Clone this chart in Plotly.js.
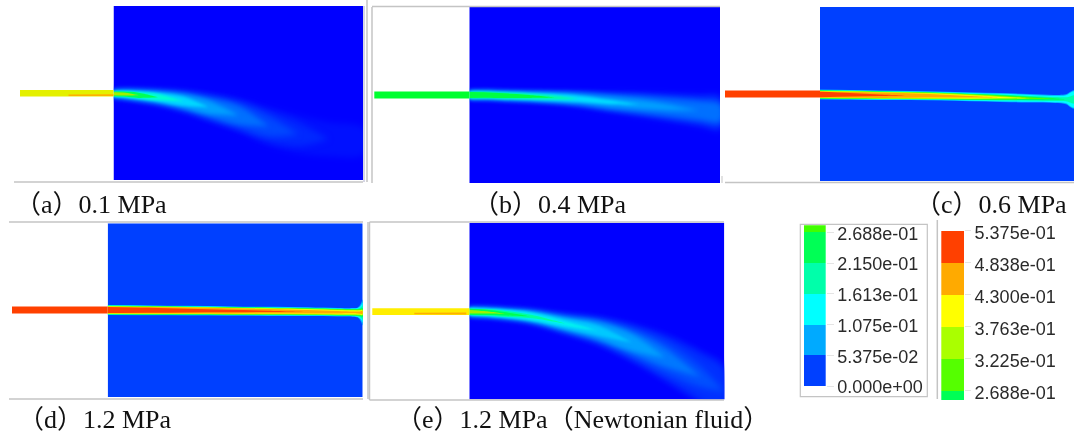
<!DOCTYPE html>
<html><head><meta charset="utf-8">
<script src="https://cdn.plot.ly/plotly-3.0.1.min.js"></script>
<style>html,body{margin:0;padding:0;background:#fff}#chart{width:1074px;height:436px}
svg.main-svg{filter:blur(.6px)}</style></head>
<body><div id="chart"></div><script>
// Legend values
const lowLevels=[0,0.05375,0.1075,0.1613,0.215,0.2688,0.281];
const lowColors=['#0040ff','#00aaff','#00ffff','#00ffaa','#00ff55','#40ff00'];
const lowTicks=[0,0.05375,0.1075,0.1613,0.215,0.2688];
const lowLabels=['0.000e+00','5.375e-02','1.075e-01','1.613e-01','2.150e-01','2.688e-01'];
const highLevels=[0.2532,0.2688,0.3225,0.3763,0.43,0.4838,0.5375];
const highColors=['#00ff55','#55ff00','#aaff00','#ffff00','#ffaa00','#ff4000'];
const highTicks=[0.2688,0.3225,0.3763,0.43,0.4838,0.5375];
const highLabels=['2.688e-01','3.225e-01','3.763e-01','4.300e-01','4.838e-01','5.375e-01'];

// Panel (a) 0.1 MPa: jet iso-bands, outer to inner
const aX=[0,10,25,45,70,95,125,155,185,215,250];
const aCenter=[0.5,0.8,2,4,8,14,22,33,41,46,48];
const aHalves=[[4,5,6,8,11,14,17,19,19,17,13],[3.6,4.5,5.5,7,9.5,12,14,15,12,0],[3.4,4.2,5.2,6.4,8.5,10.5,12,10,0],[3.2,3.9,4.8,5.8,7.5,9,9,0],[3,3.6,4.4,5.2,6.5,6.5,0],[2.8,3.2,3.8,4.4,4.5,0],[2.6,2.9,3.2,3,0],[2.4,2.5,2.6,0],[1.5,1.5,0]];
const aColors=['#0010ff','#0028ff','#0048ff','#0070ff','#00a0ff','#00d8ff','#00ffd0','#00ff55','#a0f000'];
const aSoft=[3,3,3,2.5,2,1.5,1,0.5,0.5];
const aField=['#0000ff'];
const aNozzle=[{x:[-93.5,0],c:[0,0],h:[3.3,3.3],color:'#e4f000'},{x:[-45,0],c:[1.9,1.9],h:[0.7,0.9],color:'#ffb000'}];

// Panel (b) 0.4 MPa
const bX=[0,15,35,60,85,110,140,170,200,230,251];
const bCenter=[0,0,0.7,1.5,2.5,4,7,9.5,12.5,15.5,18];
const bHalves=[[4.5,5,5.5,6,7,8.5,11,13,15,17,18],[4.2,4.4,4.7,5,5.8,7,8.5,10,11.5,13,13],[4,4.1,4.2,4.5,5,5.8,7,8,8.5,9,8],[3.8,3.8,3.9,4,4.4,4.6,5,4.5,3,0],[3.6,3.6,3.6,3.5,3.5,3,2,0],[3.3,3.2,3,2.6,1.8,0],[3,2.8,2.4,1.4,0]];
const bColors=['#0018ff','#0040ff','#0070ff','#00a0ff','#00e0ff','#00ffa0','#00ff40'];
const bSoft=[2.5,2.5,2.5,2,1.5,1,0.5];
const bField=['#0000ff'];
const bNozzle=[{x:[-95,0],c:[0,0],h:[3.4,3.4],color:'#00ff30'}];

// Panel (c) 0.6 MPa
const cX=[0,30,60,90,120,150,180,210,235,246,250,254];
const cCenter=[0.5,0.8,1.2,1.5,2,2.8,3.5,4.3,5,5.3,5.5,5.5];
const cHalves=[[4.9,4.8,4.7,4.6,4.6,4.5,4.4,4.2,4.1,5,7.5,9],[4.5,4.4,4.3,4.1,4,3.9,3.7,3.4,3.2,4,6.5,8],[4.2,4.1,3.9,3.7,3.5,3.3,3,2.4,2,2,3,4],[3.9,3.8,3.6,3.4,3.2,2.9,2.5,1.6,0.8,0],[3.7,3.6,3.4,3.2,3,2.6,2,0.8,0],[3.5,3.4,3.2,3,2.7,2.2,1.3,0],[3.3,3.2,3,2.7,2.3,1.6,0.6,0],[3.1,2.9,2.7,2.3,1.6,0.8,0],[2.7,1.8,0.8,0]];
const cColors=['#00aaff','#00ffff','#00ffaa','#00ff55','#55ff00','#aaff00','#ffff00','#ffaa00','#ff4000'];
const cSoft=[0.5,0.3,0.3,0.3,0.3,0.3,0.3,0.3,0.3];
const cField=['#0040ff'];
const cNozzle=[{x:[-95,0],c:[0,0],h:[3.4,3.4],color:'#ff4000'}];

// Panel (d) 1.2 MPa
const dX=[0,40,80,120,160,200,230,245,250,253,255];
const dCenter=[0,0.3,0.6,1,1.3,1.7,2.2,2.4,2.5,2.5,2.5];
const dHalves=[[5,4.9,4.8,4.6,4.5,4.4,4.3,4.3,5,8.5,13],[4.7,4.6,4.4,4.2,4.1,3.9,3.8,3.8,4.4,6.5,10],[4.5,4.4,4.2,3.9,3.8,3.6,3.5,3.4,3.8,5,7],[4.2,4.1,3.9,3.7,3.5,3.3,3.2,3.1,3.3,3.7,4.7],[4,3.9,3.7,3.5,3.3,3.1,2.9,2.8,2.9,3.1,3.3],[3.8,3.7,3.5,3.3,3,2.7,2.5,2.4,2.4,2.5,2.6],[3.6,3.4,3.2,3,2.7,2.4,2,1.8,1.8,1.9,2],[3.3,3.2,3,2.7,2.3,1.8,1.3,0.9,1,1.3,1.4],[3,2.5,1.8,1.2,0.6,0]];
const dColors=['#00aaff','#00ffff','#00ffaa','#00ff55','#55ff00','#aaff00','#ffff00','#ffaa00','#ff4000'];
const dSoft=[0.5,0.3,0.3,0.3,0.3,0.3,0.3,0.3,0.3];
const dField=['#0040ff'];
const dNozzle=[{x:[-96,0],c:[0,0],h:[3.4,3.4],color:'#ff4000'}];

// Panel (e) 1.2 MPa Newtonian
const eX=[0,15,35,63,96,129,163,196,231,255];
const eCenter=[0,0.6,2,5,12,19,31,46,65,80];
const eHalves=[[4.6,5,5.5,7,10,14,19,24,27,27],[4.2,4.5,5,6.3,9,12.5,17,21,23,22],[4,4.2,4.5,5.7,8,11,14,15,10,0],[3.9,4,4.3,5.2,7,9.5,11,9,0],[3.7,3.8,4.1,4.8,6,8,8,0],[3.6,3.7,3.9,4.5,5,5,0],[3.4,3.5,3.6,3.5,2.5,0],[3.2,3.2,3,1.6,0],[3,2.8,1.8,0],[1.8,1.2,0]];
const eColors=['#0012ff','#0030ff','#0050ff','#0078ff','#00a0ff','#00c8ff','#00f0f0','#00ffa0','#00ff50','#a0f000'];
const eSoft=[3,3,3,2.5,2,1.5,1,0.5,0.5,0.5];
const eField=['#0000ff'];
const eNozzle=[{x:[-97,0],c:[0,0],h:[3.4,3.4],color:'#ffee00'},{x:[-55,-3],c:[1.8,1.8],h:[0.7,0.9],color:'#ffb000'}];

// Captions
const captionTexts=['（a）0.1 MPa','（b）0.4 MPa','（c）0.6 MPa','（d）1.2 MPa','（e）1.2 MPa（Newtonian fluid）'];

const W=1074,H=436;
const panels=[
 {id:'',  left:20, box:113.5,right:363,top:6,  bot:180,yc:93.3, X:aX,C:aCenter,Hs:aHalves,cols:aColors,soft:aSoft,field:aField,noz:aNozzle},
 {id:'2', left:374,box:469.3,right:720,top:7,  bot:183,yc:95,   X:bX,C:bCenter,Hs:bHalves,cols:bColors,soft:bSoft,field:bField,noz:bNozzle},
 {id:'3', left:725,box:820,  right:1074,top:7, bot:181,yc:94,   X:cX,C:cCenter,Hs:cHalves,cols:cColors,soft:cSoft,field:cField,noz:cNozzle},
 {id:'4', left:12, box:107.7,right:362.7,top:223.3,bot:397,yc:310,X:dX,C:dCenter,Hs:dHalves,cols:dColors,soft:dSoft,field:dField,noz:dNozzle},
 {id:'5', left:372,box:469.3,right:724.3,top:222.7,bot:399.3,yc:311.7,X:eX,C:eCenter,Hs:eHalves,cols:eColors,soft:eSoft,field:eField,noz:eNozzle}
];
const traces=[];const layout={width:W,height:H,margin:{l:0,r:0,t:0,b:0},paper_bgcolor:'#fff',plot_bgcolor:'rgba(0,0,0,0)',showlegend:false,barmode:'overlay',bargap:0,shapes:[],annotations:[]};
function band(x,c,h,color,xa,ya,smooth){
  const n=h.length,xs=x.slice(0,n),up=xs.map((v,i)=>c[i]-h[i]),lo=xs.map((v,i)=>c[i]+h[i]);
  traces.push({type:'scatter',mode:'lines',x:xs.concat(xs.slice().reverse()),y:up.concat(lo.slice().reverse()),fill:'toself',fillcolor:color,line:{width:0,color:color,shape:smooth?'spline':'linear',smoothing:1},hoverinfo:'skip',xaxis:xa,yaxis:ya});
}
function hiddenAxis(o){return Object.assign({showgrid:false,zeroline:false,showticklabels:false,ticks:'',showline:false,fixedrange:true},o);}
panels.forEach(p=>{
  const xa='x'+p.id,ya='y'+p.id,w=p.right-p.box;
  layout['xaxis'+p.id]=hiddenAxis({domain:[p.left/W,p.right/W],range:[p.left-p.box,w],anchor:ya});
  layout['yaxis'+p.id]=hiddenAxis({domain:[1-p.bot/H,1-p.top/H],range:[p.bot-p.yc,p.top-p.yc],anchor:xa});
  traces.push({type:'heatmap',x:[0,w],y:[p.top-p.yc,p.bot-p.yc],z:[[0]],colorscale:[[0,p.field[0]],[1,p.field[0]]],zmin:0,zmax:1,showscale:false,hoverinfo:'skip',xaxis:xa,yaxis:ya});
  p.Hs.forEach((h,i)=>band(p.X,p.C,h,p.cols[i],xa,ya,true));
  // white nozzle side: keeps the softened jet bands inside the chamber
  const side=[p.left-p.box,0],mid=(p.top+p.bot)/2-p.yc,half=(p.bot-p.top)/2;
  band(side,[mid,mid],[half,half],'#ffffff',xa,ya,false);
  p.noz.forEach(n=>band(n.x,n.c,n.h,n.color,xa,ya,false));
});
// legends
function legend(id,x0,x1,yTop,yBot,levels,colors,ticks,labels,len,shift){
  const lower=levels.slice(0,-1),height=lower.map((v,i)=>levels[i+1]-v);
  traces.push({type:'bar',x:lower.map(()=>0.5),y:height,base:lower,width:1,marker:{color:colors,line:{width:0}},hoverinfo:'skip',xaxis:'x'+id,yaxis:'y'+id});
  layout['xaxis'+id]=hiddenAxis({domain:[x0/W,x1/W],range:[0,1],anchor:'y'+id});
  layout['yaxis'+id]={domain:[1-yBot/H,1-yTop/H],range:[levels[0],levels[levels.length-1]],anchor:'x'+id,side:'right',showgrid:false,zeroline:false,showline:false,tickmode:'array',tickvals:ticks,ticktext:labels,ticks:'outside',ticklen:len,tickcolor:'#e4e4e4',tickwidth:1,ticklabelshift:shift,tickfont:{family:'Liberation Sans',size:18,color:'#2a2a2a'},fixedrange:true};
}
legend('6',804,825.7,225.3,386,lowLevels,lowColors,lowTicks,lowLabels,7,1);
legend('7',941.3,964,230.7,400,highLevels,highColors,highTicks,highLabels,6,2);
// frames
const G='#c4c4c4';
function seg(x0,y0,x1,y1,c){layout.shapes.push({type:'line',xref:'paper',yref:'paper',x0:x0/W,x1:x1/W,y0:1-y0/H,y1:1-y1/H,line:{color:c||G,width:1.5},layer:'above'});}
seg(14,182,363,182);seg(364,6,364,182,'#c8c8dc');seg(367,0,367,182);seg(372,7,372,183);seg(372,6.5,720,6.5);
seg(722,176,722,183,'#d8d8d8');seg(725,182.5,1074,182.5);
seg(9,222,363,222);seg(9,399,363,399);seg(368,222,368,399);
seg(369.5,222,369.5,400);seg(369.5,222,724,222);seg(369.5,400,724,400);
seg(937.3,220,937.3,399);
layout.shapes.push({type:'rect',xref:'paper',yref:'paper',x0:800.3/W,x1:927.3/W,y0:1-396.7/H,y1:1-224.3/H,line:{color:G,width:1.2},layer:'below'});
// captions
const capPos=[[12.5,204],[470.5,204],[912.5,204],[16,419],[394,419]];
captionTexts.forEach((t,i)=>layout.annotations.push({text:t,xref:'paper',yref:'paper',x:capPos[i][0]/W,y:1-capPos[i][1]/H,xanchor:'left',yanchor:'middle',showarrow:false,align:'left',font:{family:'Liberation Serif, Noto Sans CJK SC',size:26,color:'#111'}}));
Plotly.newPlot('chart',traces,layout,{displayModeBar:false,staticPlot:true}).then(()=>{
  panels.forEach(p=>{
    const sub=document.querySelector('.subplot.x'+p.id+'y'+p.id);
    if(!sub)return;
    const els=sub.querySelectorAll('.scatterlayer .trace');
    p.soft.forEach((s,i)=>{const el=els[i];if(el)el.style.filter='blur('+s+'px)';});
  });
});
</script></body></html>
